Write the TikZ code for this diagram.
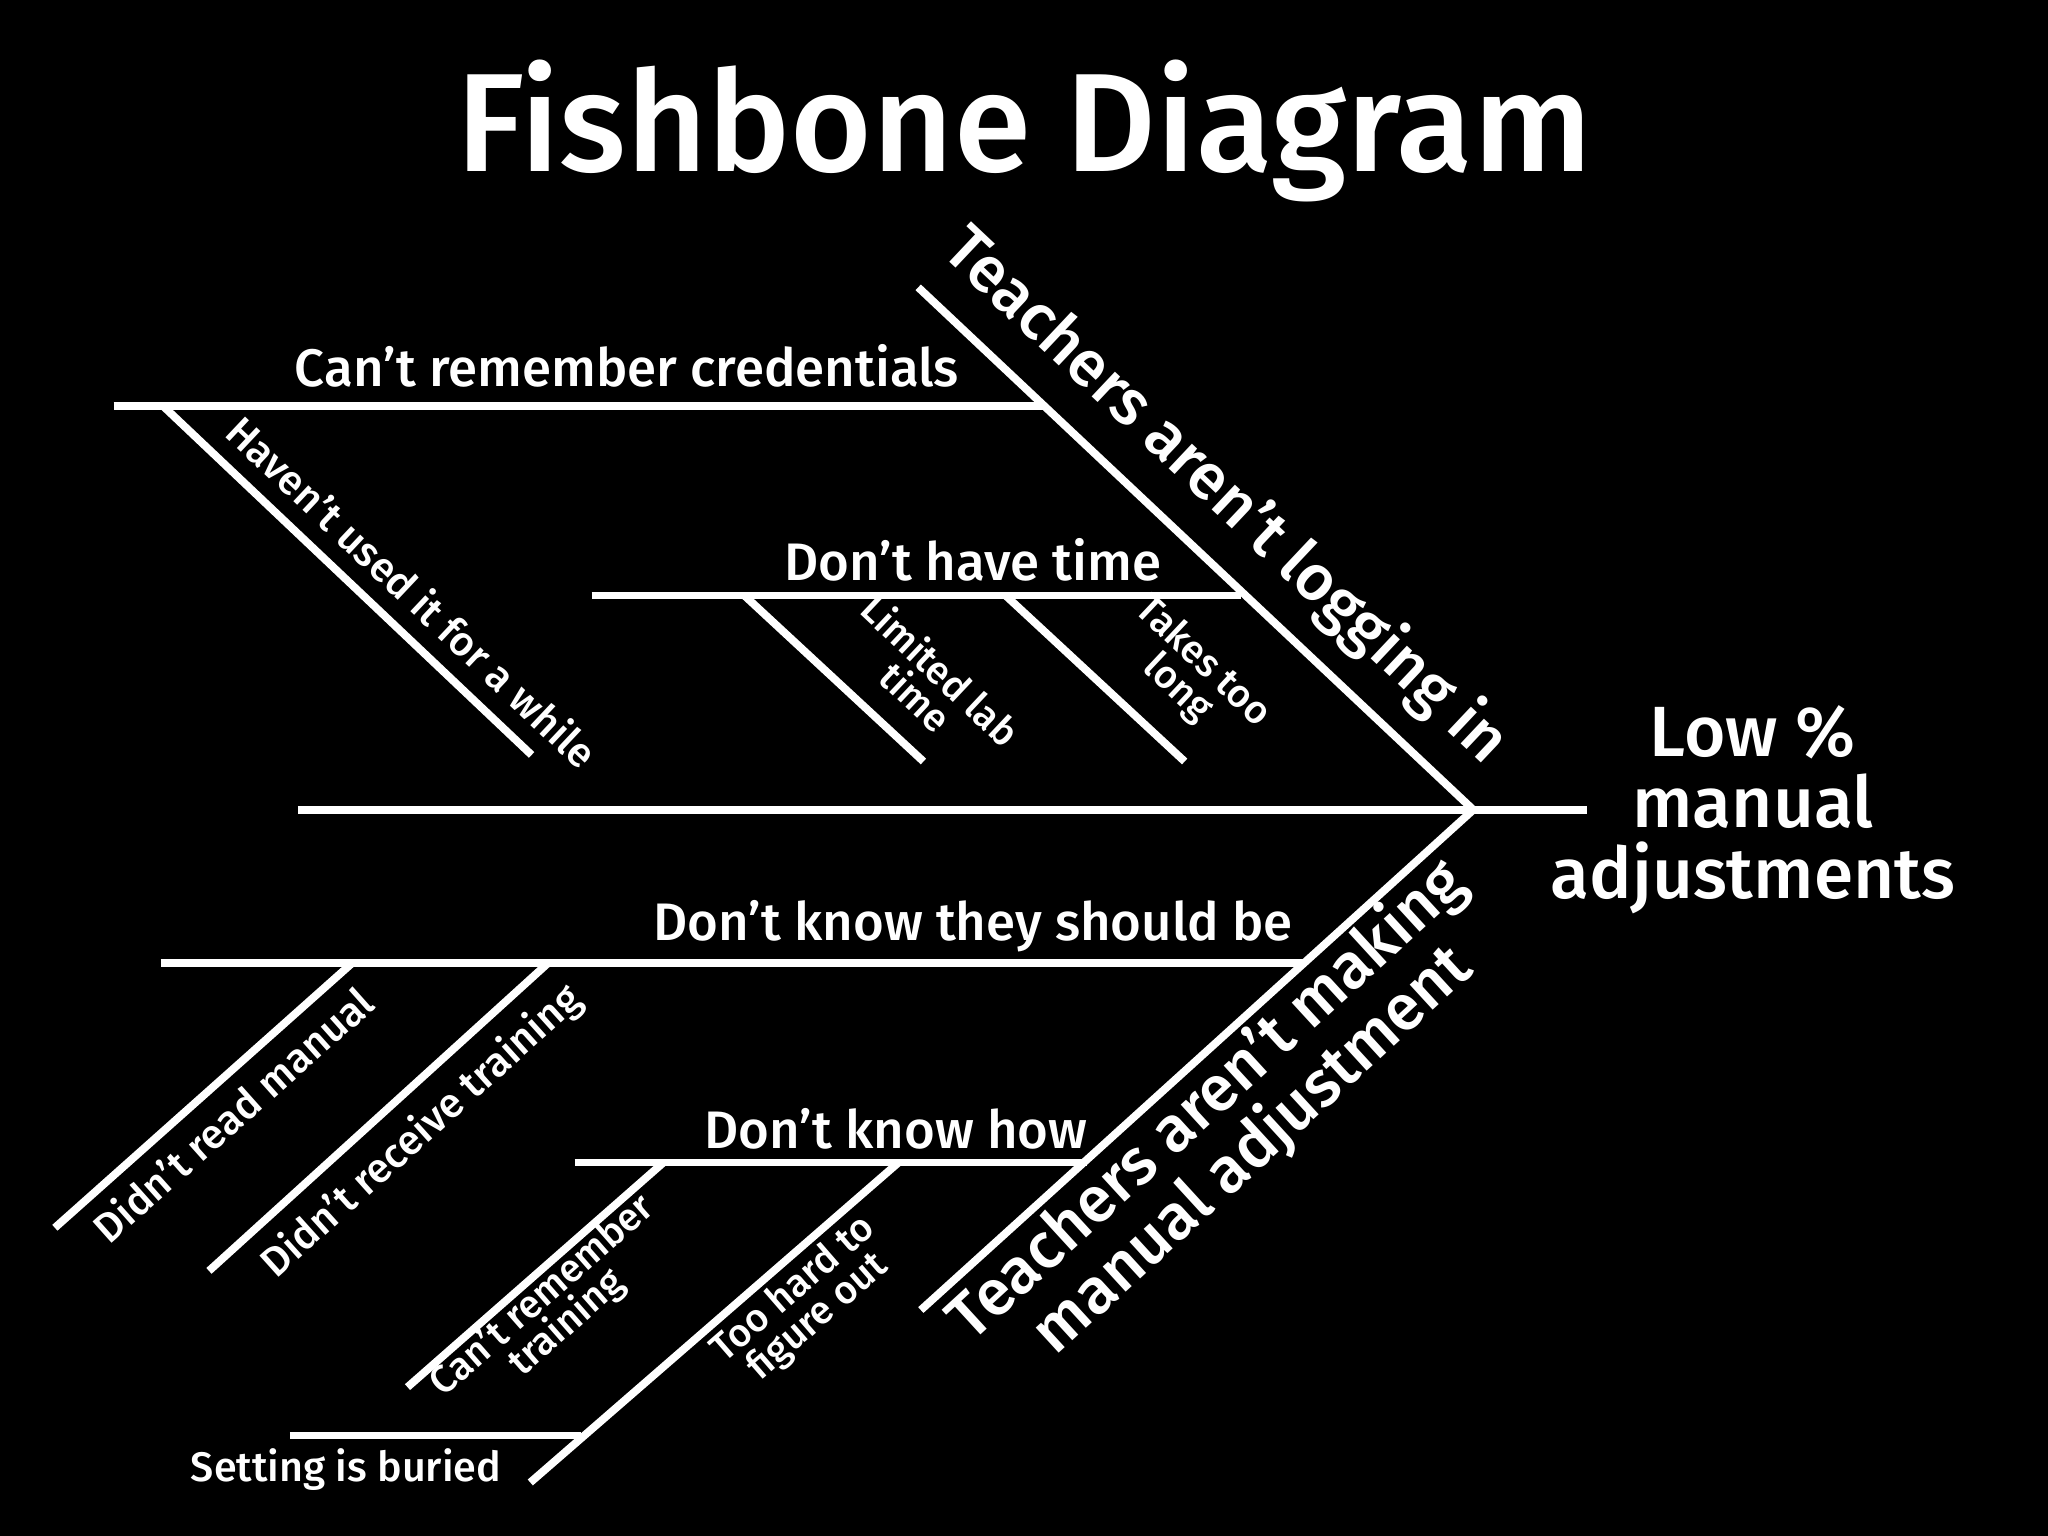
\documentclass[tikz,border=0pt]{standalone}
\usepackage{fontspec}
\setmainfont{Fira Sans}[UprightFont={* Medium},BoldFont={* SemiBold}]
\begin{document}
\begin{tikzpicture}[x=0.02cm,y=-0.02cm,
  bone/.style={draw=white,line width=3.4pt},
  lbl/.style={text=white,font=\fontsize{23}{25}\selectfont,inner sep=0pt},
  big/.style={text=white,font=\fontsize{28}{29}\selectfont,inner sep=0pt,align=center},
  small/.style={text=white,font=\fontsize{17}{16}\selectfont,inner sep=0pt,align=center}]
\fill[black] (0,0) rectangle (1568,1176);
\useasboundingbox (0,0) rectangle (1568,1176);
\node[text=white,font=\fontsize{61}{64}\selectfont] (title) at (784,100) {Fishbone Diagram};
% coordinates
\coordinate (s0) at (228,620); \coordinate (head) at (1128,620); \coordinate (s1) at (1215,620);
\coordinate (u0) at (703,220); \coordinate (l0) at (705,1003);
\coordinate (c0) at (87,311); \coordinate (c1) at (800,311);
\coordinate (h0) at (125,311); \coordinate (h1) at (407,578);
\coordinate (t0) at (453,456); \coordinate (t1) at (950,456);
\coordinate (a0) at (570,456); \coordinate (a1) at (707,583);
\coordinate (b0) at (770,456); \coordinate (b1) at (907,583);
\coordinate (k0) at (123,737); \coordinate (k1) at (998,737);
\coordinate (m0) at (270,737); \coordinate (m1) at (42,940);
\coordinate (r0) at (420,737); \coordinate (r1) at (160,973);
\coordinate (w0) at (440,890); \coordinate (w1) at (832,890);
\coordinate (e0) at (508,890); \coordinate (e1) at (312,1062);
\coordinate (f0) at (688,890); \coordinate (f1) at (406,1135);
\coordinate (g0) at (222,1099); \coordinate (g1) at (445,1099);
% bones
\draw[bone] (s0) -- (s1);
\draw[bone] (u0) -- (head) -- (l0);
\draw[bone] (c0) -- (c1); \draw[bone] (h0) -- (h1);
\draw[bone] (t0) -- (t1); \draw[bone] (a0) -- (a1); \draw[bone] (b0) -- (b1);
\draw[bone] (k0) -- (k1); \draw[bone] (m0) -- (m1); \draw[bone] (r0) -- (r1);
\draw[bone] (w0) -- (w1); \draw[bone] (e0) -- (e1); \draw[bone] (f0) -- (f1);
\draw[bone] (g0) -- (g1);
% labels
\node[big,rotate=-43.3] (ulab) at (938,380) {Teachers aren’t logging in};
\node[big,rotate=42.5] (llab) at (942,862) {Teachers aren’t making\\manual adjustment};
\node[lbl] (cl) at (480,280) {Can’t remember credentials};
\node[small,font=\fontsize{18}{19}\selectfont,rotate=-43.3] (hl) at (316,453) {Haven’t used it for a while};
\node[lbl] (tl) at (745,429) {Don’t have time};
\node[small,rotate=-43.3] (al) at (711,523) {Limited lab\\time};
\node[small,rotate=-43.3] (bl) at (911,517) {Takes too\\long};
\node[lbl] (kl) at (745,709) {Don’t know they should be};
\node[small,font=\fontsize{18}{19}\selectfont,rotate=41.7] (ml) at (178,853) {Didn’t read manual};
\node[small,font=\fontsize{18}{19}\selectfont,rotate=42] (rl) at (323,867) {Didn’t receive training};
\node[lbl] (wl) at (686,864) {Don’t know how};
\node[small,rotate=41.3] (el) at (425,1003) {Can’t remember\\training};
\node[small,rotate=41] (fl) at (617,998) {Too hard to\\figure out};
\node[small,font=\fontsize{18}{19}\selectfont] (gl) at (265,1125) {Setting is buried};
\node[big,font=\fontsize{31}{31}\selectfont] (res) at (1342,620) {Low \%\\manual\\adjustments};
\end{tikzpicture}
\end{document}
